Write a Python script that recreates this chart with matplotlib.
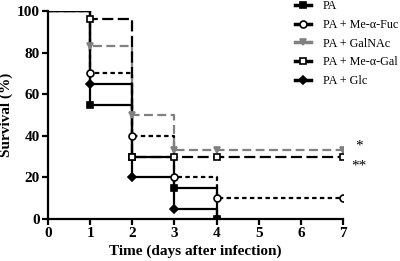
import matplotlib
matplotlib.use("Agg")
import matplotlib.pyplot as plt

days = [0, 1, 2, 3, 4, 7]
labels = ["PA", "PA + Me-\u03b1-Fuc", "PA + GalNAc", "PA + Me-\u03b1-Gal", "PA + Glc"]
pa = [100, 55, 30, 15, 0]
fuc = [100, 70, 40, 20, 10, 10]
galnac = [100, 83, 50, 33, 33, 33]
gal = [100, 96, 30, 30, 30, 30]
glc = [100, 65, 20, 5, 0]
series = [pa, fuc, galnac, gal, glc]

styles = [
    dict(color="black", ls="-", marker="s", mfc="black", ms=5),
    dict(color="black", ls=(0, (2, 1.5)), marker="o", mfc="white", ms=5),
    dict(color="#808080", ls=(0, (4, 2)), marker="v", mfc="#808080", ms=5),
    dict(color="black", ls=(0, (5, 2)), marker="s", mfc="white", ms=5),
    dict(color="black", ls="-", marker="D", mfc="black", ms=4),
]

plt.rcParams['font.family'] = ['Liberation Serif', 'DejaVu Serif']
fig = plt.figure(figsize=(4.0, 2.61), dpi=100)
ax = fig.add_axes([0.12, 0.161, 0.7375, 0.797])

handles = []
for lab, s, st in zip(labels, series, styles):
    x = days[:len(s)]
    ax.plot(x, s, drawstyle="steps-post", color=st["color"], ls=st["ls"], lw=1.6, zorder=2)
    ax.plot(x[1:], s[1:], ls="none", marker=st["marker"], ms=st["ms"], mfc=st["mfc"],
            mec=st["color"], mew=1.2, zorder=3)
    h, = ax.plot([], [], color=st["color"], ls="-", lw=2.5, marker=st["marker"], ms=st["ms"],
                 mfc=st["mfc"], mec=st["color"], mew=1.2, label=lab)
    handles.append(h)

ax.set_xlim(0, 7)
ax.set_ylim(0, 100)
ax.set_xticks(range(0, 8))
ax.set_yticks(range(0, 101, 20))
for sp in ["top", "right"]:
    ax.spines[sp].set_visible(False)
for sp in ["left", "bottom"]:
    ax.spines[sp].set_linewidth(1.6)
ax.tick_params(direction="out", width=1.6, length=4, labelsize=11, pad=2)
for t in ax.get_xticklabels() + ax.get_yticklabels():
    t.set_fontweight("bold")
ax.set_xlabel("Time (days after infection)", fontsize=11, fontweight="bold", labelpad=3)
ax.set_ylabel("Survival (%)", fontsize=11, fontweight="bold", labelpad=3)

leg = fig.legend(handles=handles, loc="upper left", bbox_to_anchor=(0.71, 1.04), frameon=False,
                 fontsize=8.7, handlelength=1.3, handletextpad=1.0, labelspacing=0.55)

ax.text(7.3, 35, "*", fontsize=11, ha="left", va="center", clip_on=False)
ax.text(7.2, 25.5, "**", fontsize=11, ha="left", va="center", clip_on=False)

fig.savefig("out.png", dpi=100)
